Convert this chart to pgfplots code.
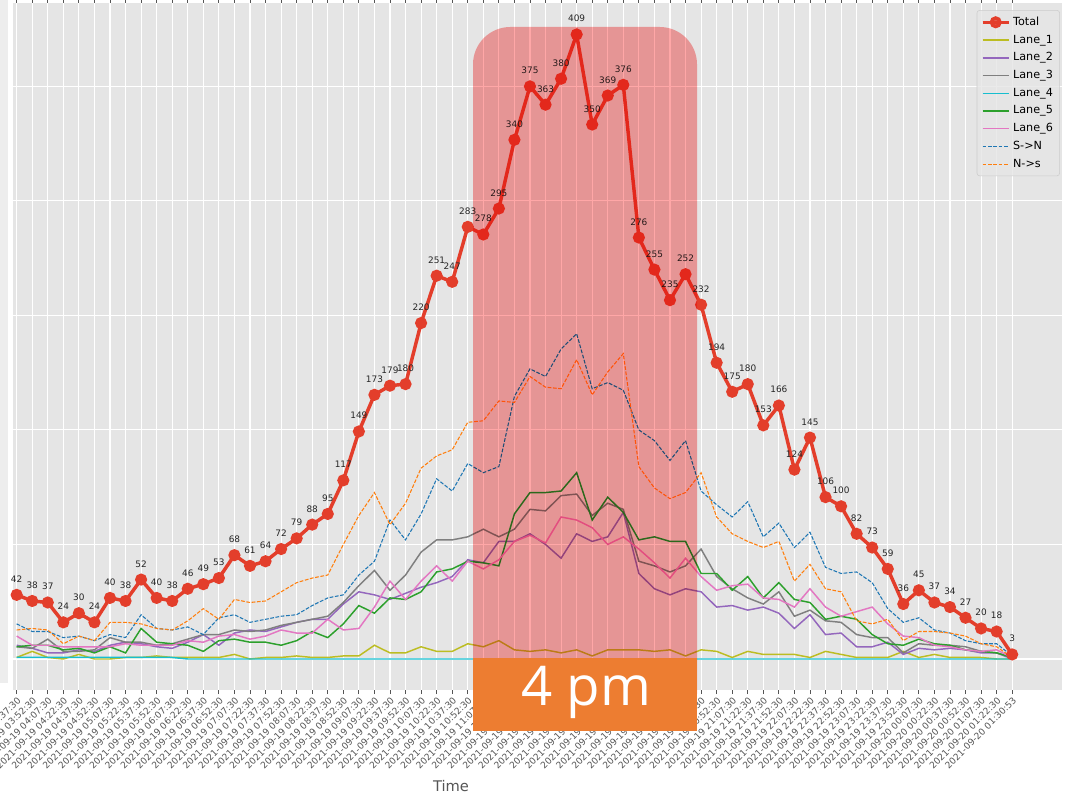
\documentclass[border=0pt]{standalone}
\usepackage{pgfplots}
\pgfplotsset{compat=1.18}
\usepackage{pgfplotstable}
\usepackage{fontspec}
\setmainfont{DejaVu Sans}
\newfontfamily\osans{Open Sans}
\definecolor{bg}{HTML}{E5E5E5}
\definecolor{tickc}{HTML}{555555}
\definecolor{totc}{HTML}{E33E2B}
\definecolor{cl1}{HTML}{BCBD22}
\definecolor{cl2}{HTML}{9467BD}
\definecolor{cl3}{HTML}{7F7F7F}
\definecolor{cl4}{HTML}{17BECF}
\definecolor{cl5}{HTML}{2CA02C}
\definecolor{cl6}{HTML}{E377C2}
\definecolor{csn}{HTML}{1F77B4}
\definecolor{cns}{HTML}{FF7F0E}
\definecolor{hl}{RGB}{255,167,167}
\definecolor{obox}{HTML}{ED7D31}
\pgfplotstableread{
i total l1 l2 l3 l4 l5 l6 sn ns
0 42 1 9 8 1 8 15 23 19
1 38 5 7 7 1 9 9 18 20
2 37 1 4 13 1 9 9 18 19
3 24 0 4 5 1 6 8 14 10
4 30 3 6 5 1 7 8 15 15
5 24 0 5 6 1 4 8 12 12
6 40 0 9 14 1 8 8 16 24
7 38 1 11 11 1 4 10 14 24
8 52 1 10 11 1 20 9 29 23
9 40 2 8 9 1 11 9 20 20
10 38 1 7 10 1 10 9 19 19
11 46 1 11 13 0 9 12 21 25
12 49 1 16 16 0 5 11 16 33
13 53 1 9 16 0 12 15 27 26
14 68 3 17 19 0 13 16 29 39
15 61 0 19 18 0 11 13 24 37
16 64 1 18 19 0 11 15 26 38
17 72 1 21 22 0 9 19 28 44
18 79 2 24 24 0 12 17 29 50
19 88 1 26 26 0 18 17 35 53
20 95 1 26 28 0 14 26 40 55
21 117 2 36 37 0 23 19 42 75
22 149 2 44 48 0 35 20 55 94
23 173 9 42 58 0 30 34 64 109
24 179 4 39 45 0 40 51 91 88
25 180 4 43 55 0 39 39 78 102
26 220 8 47 70 0 44 51 95 125
27 251 5 50 78 0 57 61 118 133
28 247 5 54 78 0 59 51 110 137
29 283 10 65 80 0 64 64 128 155
30 278 8 63 85 0 63 59 122 156
31 295 12 77 80 0 61 65 126 169
32 340 6 77 85 0 95 77 172 168
33 375 5 82 98 0 109 81 190 185
34 363 6 75 97 0 109 76 185 178
35 380 4 66 107 0 110 93 203 177
36 409 6 82 108 0 122 91 213 196
37 350 2 77 94 0 91 86 177 173
38 369 6 80 102 0 106 75 181 188
39 376 6 96 98 0 96 80 176 200
40 276 6 56 64 0 78 72 150 126
41 255 5 46 61 0 80 63 143 112
42 235 6 42 57 0 77 53 130 105
43 252 2 46 61 0 77 66 143 109
44 232 6 44 72 0 56 54 110 122
45 194 5 34 54 0 56 45 101 93
46 175 1 35 46 0 45 48 93 82
47 180 5 32 40 0 54 49 103 77
48 153 3 34 36 0 40 40 80 73
49 166 3 30 44 0 50 39 89 77
50 124 3 20 28 0 39 34 73 51
51 145 1 29 32 0 37 46 83 62
52 106 5 16 25 0 26 34 60 46
53 100 3 17 24 0 28 28 56 44
54 82 1 8 16 0 26 31 57 25
55 73 1 8 14 0 16 34 50 23
56 59 1 11 14 0 10 23 33 26
57 36 5 3 4 0 9 15 24 12
58 45 1 7 10 0 13 14 27 18
59 37 3 6 9 0 10 9 19 18
60 34 1 7 9 0 9 8 17 17
61 27 1 6 8 0 6 6 12 15
62 20 1 4 5 0 5 5 10 10
63 18 0 4 4 0 4 6 10 8
64 3 0 0 1 0 1 1 2 1
}\data
\begin{document}
\begin{tikzpicture}[x=0.75pt,y=0.75pt]
\useasboundingbox (0,0) rectangle (1076,793);
\clip (0,0) rectangle (1076,793);
\fill[white] (0,0) rectangle (1076,793);
\fill[bg!70!white] (0,110) rectangle (8,793);
\begin{axis}[
  at={(12.5pt,100.5pt)}, anchor=origin,
  scale only axis, width=786.75pt, height=515.25pt,
  xmin=-0.238, xmax=67.2, ymin=-20.45, ymax=429.45,
  axis background/.style={fill=bg},
  axis line style={draw=none},
  grid=major, major grid style={white, line width=0.8pt},
  xtick={0,...,64},
  xticklabels={2021-09-19 03:37:30,2021-09-19 03:52:30,2021-09-19 04:07:30,2021-09-19 04:22:30,2021-09-19 04:37:30,2021-09-19 04:52:30,2021-09-19 05:07:30,2021-09-19 05:22:30,2021-09-19 05:37:30,2021-09-19 05:52:30,2021-09-19 06:07:30,2021-09-19 06:22:30,2021-09-19 06:37:30,2021-09-19 06:52:30,2021-09-19 07:07:30,2021-09-19 07:22:30,2021-09-19 07:37:30,2021-09-19 07:52:30,2021-09-19 08:07:30,2021-09-19 08:22:30,2021-09-19 08:37:30,2021-09-19 08:52:30,2021-09-19 09:07:30,2021-09-19 09:22:30,2021-09-19 09:37:30,2021-09-19 09:52:30,2021-09-19 10:07:30,2021-09-19 10:22:30,2021-09-19 10:37:30,2021-09-19 10:52:30,2021-09-19 11:07:30,2021-09-19 11:52:30,2021-09-19 12:37:30,2021-09-19 13:22:30,2021-09-19 14:07:30,2021-09-19 14:52:30,2021-09-19 15:37:30,2021-09-19 16:07:30,2021-09-19 16:37:30,2021-09-19 17:22:30,2021-09-19 18:07:30,2021-09-19 18:52:30,2021-09-19 19:37:30,2021-09-19 20:07:30,2021-09-19 20:37:30,2021-09-19 20:52:30,2021-09-19 21:07:30,2021-09-19 21:22:30,2021-09-19 21:37:30,2021-09-19 21:52:30,2021-09-19 22:07:30,2021-09-19 22:22:30,2021-09-19 22:37:30,2021-09-19 22:52:30,2021-09-19 23:07:30,2021-09-19 23:22:30,2021-09-19 23:37:30,2021-09-19 23:52:30,2021-09-20 00:07:30,2021-09-20 00:22:30,2021-09-20 00:37:30,2021-09-20 00:52:30,2021-09-20 01:07:30,2021-09-20 01:22:30,2021-09-20 01:30:53},
  xticklabel style={rotate=45, anchor=north east, font=\fontsize{6.8}{7}\selectfont, text=tickc, inner sep=1pt},
  ytick={0,75,...,375}, yticklabels={},
  ytick style={draw=none},
  xtick style={tickc, line width=0.6pt}, tick align=outside, major tick length=3pt,
  /pgf/number format/assume math mode=true,
  legend style={at={(rel axis cs:0.998,0.99)}, anchor=north east, fill=bg, fill opacity=0.8, text opacity=1, draw=black!20, rounded corners=2pt, font=\fontsize{8.4}{10}\selectfont, row sep=1.6pt, inner sep=3pt, cells={anchor=west}},
  legend image code/.code={\draw[mark repeat=2,mark phase=2,#1] plot coordinates {(0pt,0pt) (9.75pt,0pt) (19.5pt,0pt)};},
]
\addplot[totc, line width=2.6pt, mark=*, mark size=3.2pt, mark options={solid},
  nodes near coords, every node near coord/.append style={font=\fontsize{6.7}{7}\selectfont, text=black!85, inner sep=0pt, yshift=8pt}]
  table[x=i, y=total] {\data};
\addlegendentry{Total}
\addplot[cl1, line width=1.1pt] table[x=i, y=l1] {\data};
\addlegendentry{Lane\_1}
\addplot[cl2, line width=1.1pt] table[x=i, y=l2] {\data};
\addlegendentry{Lane\_2}
\addplot[cl3, line width=1.1pt] table[x=i, y=l3] {\data};
\addlegendentry{Lane\_3}
\addplot[cl4, line width=1.1pt] table[x=i, y=l4] {\data};
\addlegendentry{Lane\_4}
\addplot[cl5, line width=1.1pt] table[x=i, y=l5] {\data};
\addlegendentry{Lane\_5}
\addplot[cl6, line width=1.1pt] table[x=i, y=l6] {\data};
\addlegendentry{Lane\_6}
\addplot[csn, line width=0.8pt, dash pattern=on 2.8pt off 1.2pt] table[x=i, y=sn] {\data};
\addlegendentry{S->N}
\addplot[cns, line width=0.8pt, dash pattern=on 2.8pt off 1.2pt] table[x=i, y=ns] {\data};
\addlegendentry{N->s}
\end{axis}
\begin{scope}[blend mode=multiply]
\fill[hl, rounded corners=28pt] (473,62) rectangle (697,766);
\end{scope}
\fill[obox] (473,62) rectangle (697,135);
\node[anchor=base, text=white, font=\osans\fontsize{41}{41}\selectfont, inner sep=0pt] at (586,87) {4 pm};
\node[anchor=base, text=tickc, font=\fontsize{11}{12}\selectfont, inner sep=0pt] at (451,1) {Time};
\end{tikzpicture}
\end{document}
